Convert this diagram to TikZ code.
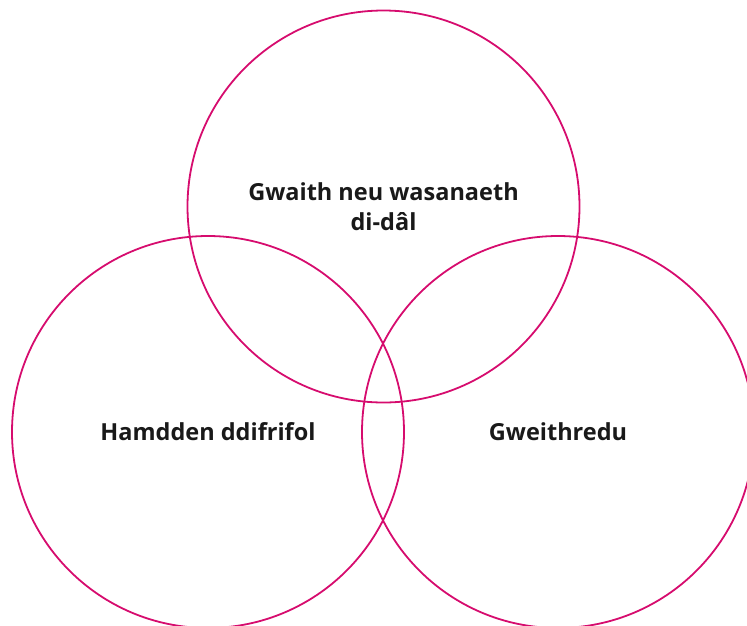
\documentclass[tikz,border=0pt]{standalone}
\usepackage{fontspec}
\setmainfont{Open Sans}
\usepackage{tikz}
\definecolor{ringpink}{RGB}{214,12,110}
\tikzset{ring/.style={circle,draw=ringpink,line width=1.8pt,minimum size=392pt,inner sep=0pt,
 align=center,font=\bfseries\fontsize{23.5}{30}\selectfont,text=black!90}}

\begin{document}
\begin{tikzpicture}[x=1pt,y=-1pt]
\useasboundingbox (0,0) rectangle (747,625);
\clip (0,0) rectangle (747,625);
\node[ring] (unpaid) at (383.5,206.5) {Gwaith neu wasanaeth\\di-dâl};
\node[ring] (leisure) at (208,432) {Hamdden ddifrifol};
\node[ring] (activism) at (558,432) {Gweithredu};
\end{tikzpicture}
\end{document}
